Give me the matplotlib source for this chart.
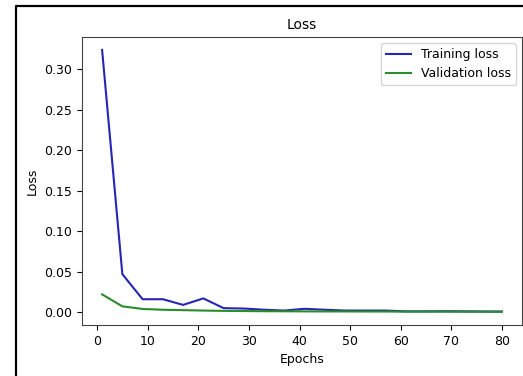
import matplotlib.pyplot as plt
from matplotlib.lines import Line2D

# Datos (una medicion cada 4 epocas)
epochs = [1, 5, 9, 13, 17, 21, 25, 29, 33, 37, 41, 45, 49, 53, 57, 61, 65, 69, 73, 77, 80]
training_loss = [0.324, 0.047, 0.016, 0.016, 0.009, 0.017, 0.005, 0.0045, 0.003, 0.002, 0.0042,
                 0.003, 0.002, 0.002, 0.002, 0.001, 0.001, 0.0012, 0.001, 0.0008, 0.0008]
validation_loss = [0.022, 0.0072, 0.004, 0.003, 0.0025, 0.002, 0.0016, 0.0014, 0.0012, 0.0011, 0.001,
                   0.0009, 0.0009, 0.0008, 0.0008, 0.0007, 0.0007, 0.0006, 0.0006, 0.0006, 0.0005]
x_ticks = [0, 10, 20, 30, 40, 50, 60, 70, 80]

plt.rcParams['font.size'] = 9

fig = plt.figure(figsize=(5.23, 3.76), dpi=100)
ax = fig.add_axes([0.157, 0.136, 0.841, 0.766])

ax.plot(epochs, training_loss, color='#2626b4', linewidth=1.5, label='Training loss')
ax.plot(epochs, validation_loss, color='#2a8c2a', linewidth=1.5, label='Validation loss')

ax.set_title('Loss', fontsize=10)
ax.set_xlabel('Epochs')
ax.set_ylabel('Loss')
ax.set_xticks(x_ticks)
ax.set_yticks([0.0, 0.05, 0.1, 0.15, 0.2, 0.25, 0.3])
ax.legend(loc='upper right')

for s in ax.spines.values():
    s.set_color('#444444')

# Marco negro exterior de la captura (solo se ve arriba y a la izquierda)
x0 = 15.5 / 523
y0 = 1 - 5.5 / 376
fig.add_artist(Line2D([x0, x0, 1.0], [0.0, y0, y0], transform=fig.transFigure,
                      color='black', linewidth=1.6))

plt.savefig('out.png', dpi=100)
